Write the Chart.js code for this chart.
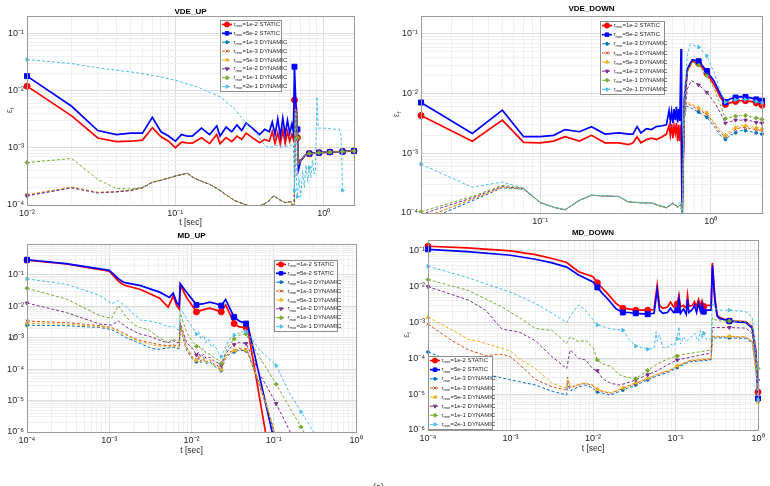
<!DOCTYPE html>
<html>
<head>
<meta charset="utf-8">
<script src="https://cdn.jsdelivr.net/npm/chart.js@4.4.1/dist/chart.umd.min.js"></script>
<style>
  html, body { margin: 0; padding: 0; background: #fff; }
  #page { position: relative; width: 770px; height: 486px; overflow: hidden; background: #fff; }
  #page canvas { position: absolute; left: 0; top: 0; }
</style>
</head>
<body>
<div id="page">
  <canvas id="vdeUp" width="770" height="486"></canvas>
  <canvas id="vdeDown" width="770" height="486"></canvas>
  <canvas id="mdUp" width="770" height="486"></canvas>
  <canvas id="mdDown" width="770" height="486"></canvas>
</div>
<script>
// ---- legend entries (same for all four panels) ----
const rmorValues = ['1e-2', '5e-2', '1e-3', '1e-3', '5e-3', '1e-2', '1e-1', '2e-1'];
const runModes = ['STATIC', 'STATIC', 'DYNAMIC', 'DYNAMIC', 'DYNAMIC', 'DYNAMIC', 'DYNAMIC', 'DYNAMIC'];

// ---- VDE_UP : [t, eps_f] ----
const vdeUpTail = [[0.7,6e-4],[0.75,7.4e-4],[0.8,7.9e-4],[0.93,8.2e-4],[1.1,8.4e-4],[1.34,8.6e-4],[1.6,8.8e-4]];
const vdeUpDynMid = [[0.07,2.5e-4],[0.08,2.7e-4],[0.1,3.2e-4],[0.12,3.6e-4],[0.13,3.1e-4],[0.14,2.8e-4],[0.15,2.6e-4],[0.17,2.3e-4],[0.2,1.8e-4],[0.22,1.5e-4],[0.25,1.2e-4],[0.3,1.0e-4],[0.35,9.2e-5],[0.4,1.05e-4],[0.43,1.2e-4],[0.46,1.45e-4],[0.5,1.25e-4],[0.55,1.1e-4],[0.6,1.15e-4],[0.625,9e-5],[0.63,4e-5],[0.645,0.0047],[0.655,0.0045],[0.665,0.0015],[0.675,5e-4]];
const vdeUp_s1e2 = [[0.01,0.0119],[0.02,0.0036],[0.03,0.00148],[0.04,0.00128],[0.05,0.0013],[0.06,0.00136],[0.07,0.00224],[0.08,0.00155],[0.09,0.0013],[0.1,0.001],[0.11,0.00125],[0.12,0.00122],[0.13,0.0012],[0.15,0.0015],[0.17,0.00118],[0.19,0.0017],[0.2,0.00118],[0.22,0.0015],[0.24,0.00128],[0.26,0.0016],[0.28,0.0014],[0.3,0.0018],[0.33,0.0015],[0.37,0.00122],[0.4,0.0014],[0.43,0.0013],[0.45,0.0019],[0.47,0.0012],[0.49,0.0018],[0.51,0.00115],[0.53,0.002],[0.55,0.0012],[0.57,0.0019],[0.59,0.0013],[0.61,0.0017],[0.625,0.0014],[0.635,0.0068],[0.645,0.0055],[0.655,0.005],[0.665,0.0015],[0.675,6e-4]];
const vdeUp_s5e2 = [[0.01,0.0178],[0.02,0.0053],[0.03,0.002],[0.04,0.0017],[0.05,0.0018],[0.06,0.0018],[0.07,0.0034],[0.08,0.0019],[0.09,0.0016],[0.1,0.0013],[0.11,0.0017],[0.12,0.0016],[0.13,0.0016],[0.15,0.0022],[0.17,0.0017],[0.19,0.0024],[0.2,0.0016],[0.22,0.0023],[0.24,0.0019],[0.26,0.0025],[0.28,0.002],[0.3,0.0027],[0.33,0.0022],[0.37,0.0017],[0.4,0.0021],[0.43,0.0019],[0.45,0.0028],[0.47,0.0017],[0.49,0.0032],[0.51,0.0016],[0.53,0.0033],[0.55,0.0017],[0.57,0.003],[0.59,0.0018],[0.61,0.0026],[0.625,0.0019],[0.635,0.026],[0.645,0.0087],[0.655,0.004],[0.665,0.0021],[0.675,4.1e-4]];
const vdeUp_d1e3a = [[0.01,1.45e-4],[0.02,2.0e-4],[0.03,1.65e-4],[0.04,1.7e-4],[0.05,1.8e-4],[0.06,2.0e-4]];
const vdeUp_d1e3b = [[0.01,1.5e-4],[0.02,2.05e-4],[0.03,1.66e-4],[0.04,1.7e-4],[0.05,1.8e-4],[0.06,2.0e-4]];
const vdeUp_d5e3 = [[0.01,1.5e-4],[0.02,2.05e-4],[0.03,1.66e-4],[0.04,1.71e-4],[0.05,1.8e-4],[0.06,2.0e-4]];
const vdeUp_d1e2 = [[0.01,1.45e-4],[0.02,2.0e-4],[0.03,1.62e-4],[0.04,1.7e-4],[0.05,1.8e-4],[0.06,2.0e-4]];
const vdeUp_d1e1 = [[0.01,5.5e-4],[0.02,6.5e-4],[0.03,2.8e-4],[0.04,1.95e-4],[0.05,1.9e-4],[0.06,2.05e-4]];
const vdeUp_d2e1 = [[0.01,0.0347],[0.02,0.0295],[0.03,0.0249],[0.05,0.0211],[0.07,0.0185],[0.1,0.0151],[0.14,0.0116],[0.2,0.0078],[0.25,0.0048],[0.3,0.0027],[0.35,0.0018],[0.4,0.0011],[0.43,0.001],[0.48,0.0011],[0.55,0.00105],[0.6,0.0011],[0.625,0.00115],[0.635,1.8e-4],[0.645,0.0047],[0.655,3e-4],[0.665,1.4e-4],[0.68,3e-4],[0.7,1.4e-4],[0.72,4e-4],[0.74,2e-4],[0.76,5e-4],[0.78,2.5e-4],[0.8,4.5e-4],[0.82,3e-4],[0.84,6e-4],[0.86,3.5e-4],[0.88,4e-4],[0.9,0.0078],[0.91,0.0035],[0.92,0.0022],[1.0,0.0022],[1.2,0.0021],[1.28,0.0021],[1.31,0.0016],[1.34,1.8e-4]];
const vdeUpMarkerT = [0.01, 0.635, 0.665, 0.8, 0.93, 1.1, 1.34, 1.6];

// ---- VDE_DOWN ----
const vdeDownDynMid = [[0.1,1.5e-4],[0.12,1.25e-4],[0.14,1.13e-4],[0.17,1.63e-4],[0.2,1.98e-4],[0.24,1.93e-4],[0.29,1.88e-4],[0.33,1.52e-4],[0.4,1.48e-4],[0.45,1.48e-4],[0.5,1.32e-4],[0.55,1.22e-4],[0.6,1.45e-4],[0.64,1.25e-4],[0.67,1.4e-4],[0.68,8e-5]];
const vdeDown_s1e2 = [[0.02,0.0043],[0.04,0.0016],[0.06,0.0036],[0.08,0.00153],[0.1,0.0015],[0.12,0.0016],[0.14,0.0019],[0.17,0.0016],[0.2,0.002],[0.24,0.0015],[0.29,0.0015],[0.33,0.0014],[0.35,0.0015],[0.37,0.0019],[0.39,0.0015],[0.42,0.0017],[0.45,0.0018],[0.48,0.0017],[0.52,0.0019],[0.55,0.0021],[0.57,0.0029],[0.58,0.002],[0.59,0.0031],[0.6,0.0018],[0.61,0.0029],[0.62,0.0022],[0.63,0.0032],[0.64,0.0016],[0.65,0.003],[0.66,0.0016],[0.67,0.003],[0.68,8e-5],[0.7,0.006],[0.73,0.024],[0.78,0.035],[0.85,0.032],[0.95,0.022],[1.05,0.014],[1.14,0.0087],[1.22,0.0066],[1.3,0.007],[1.4,0.0074],[1.5,0.0076],[1.6,0.0076],[1.72,0.0074],[1.85,0.007],[2.0,0.0064]];
const vdeDown_s5e2 = [[0.02,0.0071],[0.04,0.00215],[0.06,0.0053],[0.08,0.0019],[0.1,0.0019],[0.12,0.002],[0.14,0.0025],[0.17,0.0023],[0.2,0.0028],[0.24,0.0021],[0.29,0.0022],[0.33,0.0021],[0.35,0.0021],[0.37,0.0028],[0.39,0.0022],[0.42,0.0026],[0.45,0.0025],[0.48,0.0028],[0.52,0.0029],[0.55,0.003],[0.57,0.0052],[0.58,0.0035],[0.59,0.005],[0.6,0.0032],[0.61,0.0055],[0.62,0.0036],[0.63,0.006],[0.64,0.0033],[0.65,0.0055],[0.66,0.0035],[0.67,0.056],[0.675,0.004],[0.68,8e-5],[0.7,0.008],[0.73,0.026],[0.78,0.037],[0.85,0.035],[0.95,0.024],[1.05,0.016],[1.14,0.0098],[1.22,0.0072],[1.3,0.0082],[1.4,0.0086],[1.5,0.0089],[1.6,0.0088],[1.72,0.0085],[1.85,0.008],[2.0,0.0076]];
const vdeDown_d1e3a = [[0.02,7e-5],[0.04,1.6e-4],[0.06,2.65e-4],[0.08,2.5e-4]];
const vdeDown_d1e3aTail = [[0.7,0.0035],[0.72,0.0062],[0.78,0.0056],[0.85,0.0049],[0.95,0.004],[1.05,0.0028],[1.14,0.002],[1.22,0.0017],[1.3,0.002],[1.4,0.0022],[1.5,0.0024],[1.6,0.0024],[1.72,0.0023],[1.85,0.0022],[2.0,0.0021]];
const vdeDown_d1e3b = [[0.02,8e-5],[0.04,1.7e-4],[0.06,2.7e-4],[0.08,2.55e-4]];
const vdeDown_d1e3bTail = [[0.7,0.004],[0.72,0.0069],[0.78,0.0062],[0.85,0.0054],[0.95,0.0045],[1.05,0.0031],[1.14,0.0022],[1.22,0.0019],[1.3,0.0022],[1.4,0.0025],[1.5,0.0027],[1.6,0.0027],[1.72,0.0026],[1.85,0.0025],[2.0,0.0024]];
const vdeDown_d5e3 = [[0.02,8e-5],[0.04,1.7e-4],[0.06,2.7e-4],[0.08,2.55e-4]];
const vdeDown_d5e3Tail = [[0.7,0.0042],[0.72,0.0073],[0.78,0.0066],[0.85,0.0058],[0.95,0.0048],[1.05,0.0033],[1.14,0.0024],[1.22,0.002],[1.3,0.0024],[1.4,0.0027],[1.5,0.0029],[1.6,0.0029],[1.72,0.0028],[1.85,0.0027],[2.0,0.0026]];
const vdeDown_d1e2 = [[0.02,9.5e-5],[0.04,1.8e-4],[0.06,2.8e-4],[0.08,2.55e-4]];
const vdeDown_d1e2Tail = [[0.7,0.004],[0.73,0.012],[0.77,0.0165],[0.85,0.014],[0.95,0.0105],[1.05,0.0072],[1.14,0.0048],[1.22,0.0032],[1.3,0.0034],[1.4,0.0036],[1.5,0.0036],[1.6,0.0036],[1.72,0.0035],[1.85,0.0033],[2.0,0.0032]];
const vdeDown_d1e1 = [[0.02,1.05e-4],[0.04,1.9e-4],[0.06,2.9e-4],[0.08,2.6e-4]];
const vdeDown_d1e1Tail = [[0.7,0.006],[0.73,0.024],[0.78,0.034],[0.85,0.03],[0.95,0.02],[1.05,0.012],[1.14,0.0065],[1.22,0.0038],[1.3,0.004],[1.4,0.0042],[1.5,0.0043],[1.6,0.0043],[1.72,0.0041],[1.85,0.0039],[2.0,0.0037]];
const vdeDown_d2e1 = [[0.02,6.6e-4],[0.04,2.7e-4],[0.06,3.3e-4],[0.08,2.6e-4],[0.1,1.5e-4],[0.12,1.25e-4],[0.14,1.15e-4],[0.17,1.65e-4],[0.2,2.0e-4],[0.24,1.95e-4],[0.29,1.9e-4],[0.33,1.55e-4],[0.4,1.5e-4],[0.45,1.5e-4],[0.5,1.35e-4],[0.55,1.25e-4],[0.6,1.5e-4],[0.64,1.3e-4],[0.67,1.6e-4],[0.68,8e-5],[0.7,0.01],[0.73,0.045],[0.76,0.067],[0.85,0.06],[0.95,0.043],[1.05,0.022],[1.14,0.011],[1.22,0.0072],[1.3,0.0076],[1.4,0.0079],[1.5,0.008],[1.6,0.008],[1.72,0.0078],[1.85,0.0074],[2.0,0.007]];
const vdeDownMarkerT = [0.02, 0.85, 0.95, 1.22, 1.4, 1.6, 1.85, 2.0];

// ---- MD_UP ----
const mdUp_s1e2 = [[1e-4,0.29],[3e-4,0.22],[1e-3,0.13],[1.3e-3,0.062],[1.5e-3,0.047],[2.4e-3,0.034],[4.1e-3,0.018],[5.2e-3,0.0093],[6e-3,0.021],[6.6e-3,0.0105],[7.1e-3,0.0081],[7.3e-3,0.047],[8.7e-3,0.019],[1.15e-2,0.0066],[1.4e-2,0.0078],[1.67e-2,0.0087],[2e-2,0.0075],[2.3e-2,0.0066],[2.6e-2,0.011],[2.9e-2,0.006],[3.3e-2,0.0028],[3.8e-2,0.0022],[4.6e-2,0.0021],[4.8e-2,0.0021],[0.082,6e-7]];
const mdUp_s5e2 = [[1e-4,0.30],[3e-4,0.225],[1e-3,0.138],[1.3e-3,0.074],[1.5e-3,0.057],[2.4e-3,0.045],[4.1e-3,0.028],[5.4e-3,0.019],[6e-3,0.026],[6.6e-3,0.013],[7.1e-3,0.0104],[7.3e-3,0.052],[8.7e-3,0.028],[1.15e-2,0.011],[1.4e-2,0.012],[1.67e-2,0.0135],[2e-2,0.012],[2.3e-2,0.0104],[2.6e-2,0.0165],[2.9e-2,0.009],[3.3e-2,0.0045],[3.8e-2,0.0034],[4.6e-2,0.0028],[4.8e-2,0.0028],[0.1,6e-7]];
const mdUp_d1e3a = [[1e-4,0.0025],[3e-4,0.0024],[7.7e-4,0.0021],[1.07e-3,0.0018],[1.29e-3,0.0014],[1.6e-3,0.001],[2e-3,0.0008],[2.4e-3,0.00065],[3.1e-3,0.00048],[3.8e-3,0.00042],[4.5e-3,0.00045],[5.2e-3,0.00047],[6e-3,0.0005],[6.6e-3,0.00046],[7.1e-3,0.00045],[7.3e-3,0.0021],[8.7e-3,0.0004],[1.05e-2,0.00019],[1.15e-2,0.00017],[1.22e-2,0.00022],[1.3e-2,0.00016],[1.4e-2,0.0002],[1.5e-2,0.00015],[1.67e-2,0.00017],[1.9e-2,0.00012],[2.1e-2,0.00011],[2.3e-2,9e-5],[2.6e-2,0.00022],[2.9e-2,0.0003],[3.3e-2,0.00035],[3.8e-2,0.0004],[4.6e-2,0.00038],[5e-2,0.00026],[6.7e-2,3e-5],[8.1e-2,7e-6],[9.8e-2,1.3e-6],[0.11,5e-7]];
const mdUp_d1e3b = [[1e-4,0.0034],[3e-4,0.003],[7.7e-4,0.0024],[1.07e-3,0.0021],[1.29e-3,0.0017],[1.6e-3,0.0013],[2e-3,0.00095],[2.4e-3,0.0008],[3.1e-3,0.0007],[3.8e-3,0.00062],[4.5e-3,0.00058],[5.2e-3,0.00055],[6e-3,0.0006],[6.6e-3,0.00055],[7.1e-3,0.00055],[7.3e-3,0.0025],[8.7e-3,0.0005],[1.05e-2,0.00022],[1.15e-2,0.0002],[1.22e-2,0.00026],[1.3e-2,0.00018],[1.4e-2,0.00024],[1.5e-2,0.00017],[1.67e-2,0.0002],[1.9e-2,0.00014],[2.1e-2,0.00013],[2.3e-2,0.0001],[2.6e-2,0.00025],[2.9e-2,0.00035],[3.3e-2,0.0004],[3.8e-2,0.00045],[4.6e-2,0.00042],[5e-2,0.0003],[6.7e-2,3.5e-5],[8.1e-2,8e-6],[9.8e-2,1.45e-6],[0.11,5e-7]];
const mdUp_d5e3 = [[1e-4,0.0029],[3e-4,0.0027],[7.7e-4,0.0022],[1.07e-3,0.002],[1.29e-3,0.0016],[1.6e-3,0.0012],[2e-3,0.0009],[2.4e-3,0.00075],[3.1e-3,0.00062],[3.8e-3,0.00055],[4.5e-3,0.00052],[5.2e-3,0.0005],[6e-3,0.00056],[6.6e-3,0.0005],[7.1e-3,0.0005],[7.3e-3,0.0023],[8.7e-3,0.00045],[1.05e-2,0.0002],[1.15e-2,0.00019],[1.22e-2,0.00024],[1.3e-2,0.00017],[1.4e-2,0.00022],[1.5e-2,0.00016],[1.67e-2,0.00019],[1.9e-2,0.00013],[2.1e-2,0.00012],[2.3e-2,9.5e-5],[2.6e-2,0.00024],[2.9e-2,0.00033],[3.3e-2,0.00038],[3.8e-2,0.00043],[4.6e-2,0.0004],[5e-2,0.00028],[6.7e-2,3.3e-5],[8.1e-2,7.5e-6],[9.8e-2,1.4e-6],[0.11,5e-7]];
const mdUp_d1e2 = [[1e-4,0.0126],[3e-4,0.0063],[7.7e-4,0.0027],[1.07e-3,0.0025],[1.29e-3,0.0034],[1.6e-3,0.0022],[2e-3,0.0016],[2.4e-3,0.0013],[3.1e-3,0.0011],[3.8e-3,0.0009],[4.5e-3,0.00075],[5.2e-3,0.0007],[6e-3,0.0008],[6.6e-3,0.0007],[7.1e-3,0.0007],[7.3e-3,0.003],[8.7e-3,0.0007],[1.05e-2,0.00042],[1.15e-2,0.00028],[1.22e-2,0.00035],[1.3e-2,0.00024],[1.4e-2,0.0003],[1.5e-2,0.00022],[1.67e-2,0.00024],[1.9e-2,0.00017],[2.1e-2,0.00016],[2.3e-2,0.00013],[2.6e-2,0.0003],[2.9e-2,0.00045],[3.3e-2,0.0006],[3.8e-2,0.0007],[4.6e-2,0.00065],[5.5e-2,0.00025],[6.7e-2,7e-5],[8.1e-2,3e-5],[0.107,8e-6],[0.156,1.1e-6],[0.18,5e-7]];
const mdUp_d1e1 = [[1e-4,0.037],[3e-4,0.017],[7.7e-4,0.005],[1.07e-3,0.0041],[1.29e-3,0.0105],[1.6e-3,0.0045],[2e-3,0.0026],[2.4e-3,0.0021],[3.1e-3,0.0017],[3.8e-3,0.0011],[4.5e-3,0.00085],[5.2e-3,0.0007],[6e-3,0.0009],[6.6e-3,0.0008],[7.1e-3,0.0008],[7.3e-3,0.006],[8.7e-3,0.0015],[1.05e-2,0.0007],[1.15e-2,0.00053],[1.22e-2,0.0006],[1.3e-2,0.0004],[1.4e-2,0.00045],[1.5e-2,0.00032],[1.67e-2,0.0003],[1.9e-2,0.00022],[2.1e-2,0.0002],[2.3e-2,0.00015],[2.6e-2,0.00035],[2.9e-2,0.0006],[3.3e-2,0.0009],[3.8e-2,0.0012],[4.6e-2,0.0013],[5.5e-2,0.0006],[6.7e-2,2.4e-4],[8.1e-2,1.1e-4],[0.107,3.3e-5],[0.156,6e-6],[0.215,1.45e-6],[0.25,7e-7]];
const mdUp_d2e1 = [[1e-4,0.074],[3e-4,0.05],[7.7e-4,0.022],[1.07e-3,0.012],[1.29e-3,0.015],[1.6e-3,0.0095],[2e-3,0.0055],[2.4e-3,0.0036],[3.1e-3,0.0034],[3.8e-3,0.003],[4.5e-3,0.0026],[5.2e-3,0.0022],[6e-3,0.0024],[6.6e-3,0.0019],[7.1e-3,0.0017],[7.3e-3,0.009],[8.7e-3,0.004],[1.05e-2,0.0019],[1.15e-2,0.0013],[1.22e-2,0.0016],[1.3e-2,0.0009],[1.4e-2,0.0012],[1.5e-2,0.0007],[1.6e-2,0.0009],[1.75e-2,0.0005],[1.9e-2,0.0006],[2.1e-2,0.00035],[2.3e-2,0.00025],[2.6e-2,0.0005],[2.9e-2,0.0009],[3.3e-2,0.0012],[3.8e-2,0.0014],[4.6e-2,0.0016],[6.7e-2,4.2e-4],[0.107,1.3e-4],[0.156,1.7e-5],[0.215,4.4e-6],[0.3,1.1e-6],[0.32,8e-7]];
const mdUpMarkerT = [1e-4, 1.15e-2, 2.3e-2, 3.3e-2, 4.6e-2, 0.107, 0.215];

// ---- MD_DOWN ----
const mdDown_s1e2 = [[1e-4,0.134],[3e-4,0.12],[1e-3,0.1],[2e-3,0.078],[3.2e-3,0.061],[4.8e-3,0.047],[6.7e-3,0.026],[1e-2,0.019],[1.13e-2,0.0128],[1.3e-2,0.009],[1.5e-2,0.0064],[1.9e-2,0.0034],[2.3e-2,0.0025],[2.7e-2,0.0024],[3.3e-2,0.0022],[4.6e-2,0.0022],[5.5e-2,0.0023],[6e-2,0.011],[6.4e-2,0.003],[7e-2,0.0025],[8e-2,0.0027],[8.7e-2,0.0037],[9.5e-2,0.0027],[0.105,0.0033],[0.11,0.0058],[0.115,0.0027],[0.125,0.003],[0.135,0.0025],[0.14,0.0058],[0.145,0.0028],[0.16,0.003],[0.17,0.0038],[0.18,0.0028],[0.19,0.0044],[0.2,0.003],[0.21,0.004],[0.22,0.0028],[0.24,0.003],[0.27,0.003],[0.28,0.046],[0.3,0.005],[0.32,0.0016],[0.34,0.0014],[0.45,0.0011],[0.6,0.00108],[0.71,0.00105],[0.85,7.6e-4],[0.94,1.7e-4],[1.0,1.15e-5]];
const mdDown_s5e2 = [[1e-4,0.11],[3e-4,0.095],[1e-3,0.075],[2e-3,0.058],[3.2e-3,0.046],[4.8e-3,0.035],[6.7e-3,0.021],[1e-2,0.0135],[1.13e-2,0.0095],[1.3e-2,0.0065],[1.5e-2,0.0046],[1.9e-2,0.0024],[2.3e-2,0.0019],[2.7e-2,0.0019],[3.3e-2,0.0018],[4.6e-2,0.0017],[5.5e-2,0.0018],[6e-2,0.0082],[6.4e-2,0.0022],[7e-2,0.0018],[8e-2,0.0019],[8.7e-2,0.0025],[9.5e-2,0.0019],[0.105,0.0022],[0.11,0.0045],[0.115,0.0018],[0.125,0.0024],[0.135,0.0017],[0.14,0.0045],[0.145,0.0019],[0.16,0.0023],[0.17,0.003],[0.18,0.0019],[0.19,0.0035],[0.2,0.0021],[0.21,0.0032],[0.22,0.002],[0.24,0.0022],[0.27,0.0022],[0.28,0.039],[0.3,0.004],[0.32,0.0015],[0.34,0.0013],[0.45,0.0011],[0.6,0.00102],[0.71,0.001],[0.85,7e-4],[0.94,1.4e-4],[1.0,7.6e-6]];
const mdDown_d1e3a = [[1e-4,0.00015],[2e-4,0.00008],[3.1e-4,0.00005],[5e-4,0.000036],[1e-3,0.000025],[2e-3,0.000018],[3.2e-3,0.000012],[4.8e-3,0.0000095],[4.9e-3,0.00002],[5.3e-3,0.0000125],[6.7e-3,0.000016],[8.1e-3,0.000018],[1e-2,0.000015],[1.13e-2,0.0000115],[1.65e-2,0.0000095],[2.3e-2,0.000013],[3.3e-2,0.000018],[4.6e-2,0.000025],[6e-2,0.000032],[8.4e-2,0.000042],[0.105,0.000055],[0.15,0.00008],[0.27,0.00009],[0.28,0.00037],[0.3,0.00037],[0.45,0.00037],[0.71,0.00036],[0.85,0.00028],[0.94,5e-5],[1.0,6.5e-6]];
const mdDown_d1e3b = [[1e-4,0.0009],[2e-4,0.0003],[3.1e-4,0.00017],[5e-4,0.00012],[7.9e-4,0.00013],[1e-3,0.00011],[1.26e-3,0.00007],[2e-3,0.000026],[3.2e-3,0.000016],[4.8e-3,0.000013],[4.9e-3,0.00003],[5.3e-3,0.000015],[6.7e-3,0.000018],[8.1e-3,0.00002],[1e-2,0.000017],[1.13e-2,0.000013],[1.65e-2,0.0000105],[2.3e-2,0.0000145],[3.3e-2,0.00002],[4.6e-2,0.000027],[6e-2,0.000035],[8.4e-2,0.000045],[0.105,0.00006],[0.15,0.000085],[0.27,0.000095],[0.28,0.0004],[0.3,0.0004],[0.45,0.0004],[0.71,0.00039],[0.85,0.0003],[0.94,6e-5],[1.0,1.6e-5]];
const mdDown_d5e3 = [[1e-4,0.0014],[2e-4,0.0006],[3.1e-4,0.00034],[4e-4,0.0003],[5e-4,0.00026],[7.9e-4,0.00019],[1e-3,0.00016],[1.26e-3,0.0001],[2e-3,0.000052],[3.2e-3,0.00002],[4.8e-3,0.0000145],[4.9e-3,0.000025],[5.3e-3,0.000016],[6.7e-3,0.000019],[8.1e-3,0.000021],[1e-2,0.000018],[1.13e-2,0.0000135],[1.65e-2,0.000011],[2.3e-2,0.000015],[3.3e-2,0.000021],[4.6e-2,0.000028],[6e-2,0.000036],[8.4e-2,0.000047],[0.105,0.000062],[0.15,0.000088],[0.27,0.0001],[0.28,0.00041],[0.3,0.00041],[0.45,0.00041],[0.71,0.0004],[0.85,0.00031],[0.94,6e-5],[1.0,6e-6]];
const mdDown_d1e2 = [[1e-4,0.01],[3.1e-4,0.0042],[5e-4,0.0022],[7.9e-4,0.00065],[1.26e-3,0.00055],[2e-3,0.00031],[3.2e-3,0.00011],[4.8e-3,0.000052],[5.3e-3,0.00017],[6.7e-3,0.0001],[8.1e-3,0.00009],[1e-2,0.00005],[1.13e-2,0.000045],[1.3e-2,0.000027],[1.65e-2,0.00002],[2.07e-2,0.000018],[2.5e-2,0.00002],[3.3e-2,0.000025],[4.6e-2,0.000035],[6e-2,0.000045],[8.4e-2,0.00007],[0.105,0.00009],[0.13,0.0001],[0.19,0.00012],[0.27,0.00014],[0.28,0.00072],[0.3,0.00072],[0.45,0.00072],[0.71,0.0007],[0.85,5e-4],[0.94,1e-4],[1.0,2.4e-5]];
const mdDown_d1e1 = [[1e-4,0.0158],[3.1e-4,0.0078],[5e-4,0.0045],[7.9e-4,0.0027],[1.26e-3,0.0014],[2e-3,0.00068],[3.2e-3,0.0006],[4.8e-3,0.00026],[5.3e-3,0.0004],[6.7e-3,0.00029],[8.1e-3,0.00032],[1e-2,0.0002],[1.13e-2,0.00009],[1.3e-2,0.00007],[1.65e-2,0.00006],[2.07e-2,0.000035],[2.5e-2,0.00003],[3.3e-2,0.000027],[4.6e-2,0.000046],[6e-2,0.00007],[8.4e-2,0.0001],[0.105,0.000116],[0.13,0.00013],[0.19,0.00015],[0.27,0.00017],[0.28,0.0014],[0.3,0.0012],[0.34,0.0011],[0.45,0.0011],[0.71,0.00105],[0.85,7.6e-4],[0.94,1.3e-4],[1.0,5.2e-5]];
const mdDown_d2e1 = [[1e-4,0.037],[3e-4,0.018],[5e-4,0.012],[1e-3,0.007],[2e-3,0.0034],[3.2e-3,0.0018],[4.8e-3,0.001],[5.3e-3,0.0015],[6.7e-3,0.0031],[8.1e-3,0.0022],[1e-2,0.0012],[1.13e-2,0.00085],[1.3e-2,0.00078],[1.65e-2,0.00066],[2.3e-2,0.00061],[2.7e-2,0.00035],[3.3e-2,0.00022],[4.6e-2,0.00018],[5.5e-2,0.00019],[5.8e-2,0.00055],[6e-2,0.0003],[6.4e-2,0.00045],[7e-2,0.0002],[8e-2,0.0002],[8.7e-2,0.00025],[9.5e-2,0.00022],[0.105,0.00035],[0.11,0.00076],[0.115,0.00025],[0.125,0.0004],[0.135,0.0003],[0.15,0.00036],[0.17,0.0005],[0.19,0.0003],[0.2,0.0006],[0.21,0.00035],[0.22,0.0005],[0.24,0.00032],[0.27,0.00035],[0.28,0.0042],[0.3,0.0025],[0.34,0.0022],[0.45,0.0022],[0.6,0.0021],[0.71,0.002],[0.85,0.0014],[0.94,1.7e-4],[1.0,7e-6]];
const mdDownMarkerT = [1e-4, 1.13e-2, 2.3e-2, 3.3e-2, 4.6e-2, 0.105, 0.22, 0.45, 1.0];

// ---- styles ----
const FONT = '"Liberation Sans", Arial, Helvetica, sans-serif';
const SERIES_COLORS = ['#ff0000', '#0000ff', '#0072bd', '#d95319', '#edb120', '#7e2f8e', '#77ac30', '#4dbeee'];
const SERIES_STYLE = [
    { width: 1.7, dash: [], marker: 'circle', rot: 0, r: 3 },
    { width: 1.7, dash: [], marker: 'rect', rot: 0, r: 3.5 },
    { width: 1, dash: [3, 2], marker: 'circle', rot: 0, r: 1.4 },
    { width: 1, dash: [3, 2], marker: 'crossRot', rot: 0, r: 2 },
    { width: 1, dash: [3, 2], marker: 'triangle', rot: 0, r: 2 },
    { width: 1, dash: [3, 2], marker: 'triangle', rot: 180, r: 2 },
    { width: 1, dash: [3, 2], marker: 'rectRot', rot: 0, r: 2 },
    { width: 1, dash: [3, 2], marker: 'triangle', rot: 90, r: 2 }
];

const SUP = { '-': '\u207b', '0': '\u2070', '1': '\u00b9', '2': '\u00b2', '3': '\u00b3', '4': '\u2074', '5': '\u2075', '6': '\u2076', '7': '\u2077', '8': '\u2078', '9': '\u2079' };

function isDecade(v) {
    const l = Math.log10(v);
    return Math.abs(l - Math.round(l)) < 1e-6;
}

function decadeLabel(v) {
    const e = String(Math.round(Math.log10(v)));
    return '10' + e.split('').map(c => SUP[c]).join('');
}

// grid at 1..9 x 10^n, labels only on decades
function logTicks(scale) {
    const lo = Math.floor(Math.log10(scale.min) + 1e-9);
    const hi = Math.ceil(Math.log10(scale.max) - 1e-9);
    const ticks = [];
    for (let e = lo; e <= hi; e++) {
        for (let m = 1; m <= 9; m++) {
            const v = m * Math.pow(10, e);
            if (v >= scale.min * 0.9999 && v <= scale.max * 1.0001) ticks.push({ value: v });
        }
    }
    scale.ticks = ticks;
}

function axisOptions(range, fitSize, isX, titleText) {
    return {
        type: 'logarithmic',
        position: isX ? 'bottom' : 'left',
        min: range[0],
        max: range[1],
        afterBuildTicks: logTicks,
        afterFit: s => { if (isX) s.height = fitSize; else s.width = fitSize; },
        grid: {
            drawTicks: false,
            lineWidth: 1,
            color: c => (c.tick && isDecade(c.tick.value)) ? '#dcdcdc' : '#efefef'
        },
        border: { display: true, color: '#9a9a9a' },
        ticks: {
            autoSkip: false,
            maxRotation: 0,
            padding: 3,
            color: '#262626',
            font: { family: FONT, size: 9 },
            callback: v => isDecade(v) ? decadeLabel(v) : ''
        },
        title: {
            display: !!titleText,
            text: titleText || '',
            color: '#262626',
            padding: 0,
            font: { family: FONT, size: 8.5, lineHeight: 1 }
        }
    };
}

// box, y label, legend drawn on top of the plot
const framePlugin = {
    id: 'matlabFrame',
    afterDraw(chart, args, opts) {
        const ctx = chart.ctx;
        const a = chart.chartArea;
        ctx.save();
        ctx.strokeStyle = '#9a9a9a';
        ctx.lineWidth = 1;
        ctx.strokeRect(Math.round(a.left) + 0.5, Math.round(a.top) + 0.5, Math.round(a.right - a.left), Math.round(a.bottom - a.top));

        // y label: epsilon with subscript f
        ctx.translate(opts.yLabelX, (a.top + a.bottom) / 2);
        ctx.rotate(-Math.PI / 2);
        ctx.fillStyle = '#555';
        ctx.textBaseline = 'middle';
        ctx.font = '9px ' + FONT;
        const w1 = ctx.measureText('\u03b5').width;
        ctx.font = '6px ' + FONT;
        const w2 = ctx.measureText('f').width;
        ctx.font = '9px ' + FONT;
        ctx.fillText('\u03b5', -(w1 + w2) / 2, 0);
        ctx.font = '6px ' + FONT;
        ctx.fillText('f', -(w1 + w2) / 2 + w1, 2);
        ctx.restore();

        // legend
        const [lx, ly, lw, lh] = opts.legend;
        ctx.save();
        ctx.fillStyle = '#fff';
        ctx.fillRect(lx, ly, lw, lh);
        ctx.strokeStyle = '#8c8c8c';
        ctx.strokeRect(lx + 0.5, ly + 0.5, lw, lh);
        const rowH = lh / chart.data.datasets.length;
        chart.data.datasets.forEach((ds, i) => {
            const st = SERIES_STYLE[i];
            const cy = ly + rowH * (i + 0.5);
            const x0 = lx + 2, x1 = lx + 12;
            ctx.strokeStyle = ds.borderColor;
            ctx.fillStyle = ds.borderColor;
            ctx.lineWidth = st.width;
            ctx.setLineDash(st.dash);
            ctx.beginPath();
            ctx.moveTo(x0, cy);
            ctx.lineTo(x1, cy);
            ctx.stroke();
            ctx.setLineDash([]);
            ctx.lineWidth = 1;
            Chart.helpers.drawPoint(ctx, { pointStyle: st.marker, rotation: st.rot, radius: Math.min(st.r, 2.5), borderWidth: 1 }, (x0 + x1) / 2, cy);
            ctx.fillStyle = '#262626';
            ctx.textBaseline = 'middle';
            let tx = x1 + 1.5;
            ctx.font = '6px ' + FONT;
            ctx.fillText('r', tx, cy);
            tx += ctx.measureText('r').width;
            ctx.font = '4px ' + FONT;
            ctx.fillText('mor', tx, cy + 1.8);
            tx += ctx.measureText('mor').width;
            ctx.font = '6px ' + FONT;
            ctx.fillText('=' + rmorValues[i] + ' ' + runModes[i], tx, cy);
        });
        if (opts.caption) {
            ctx.fillStyle = '#262626';
            ctx.font = '9px ' + FONT;
            ctx.textBaseline = 'alphabetic';
            ctx.fillText(opts.caption[0], opts.caption[1], opts.caption[2]);
        }
        ctx.restore();
    }
};

function makeDatasets(seriesList, markerT) {
    const marks = new Set(markerT);
    return seriesList.map((pts, i) => {
        const st = SERIES_STYLE[i];
        return {
            label: 'r_mor=' + rmorValues[i] + ' ' + runModes[i],
            data: pts.map(p => ({ x: p[0], y: p[1] })),
            borderColor: SERIES_COLORS[i],
            backgroundColor: SERIES_COLORS[i],
            pointBackgroundColor: SERIES_COLORS[i],
            pointBorderColor: SERIES_COLORS[i],
            borderWidth: st.width,
            borderDash: st.dash,
            pointStyle: st.marker,
            pointRotation: st.rot,
            pointRadius: c => (c.raw && marks.has(c.raw.x)) ? st.r : 0,
            pointHoverRadius: 0,
            pointBorderWidth: 1,
            tension: 0,
            fill: false,
            order: 10 - i,
            clip: { left: 4, right: 4, top: 0, bottom: 0 }
        };
    });
}

function makePanel(p) {
    const [L, T, R, B] = p.area;
    const yAxisW = 25;
    const titleH = 8 + p.titleGap;
    new Chart(document.getElementById(p.id), {
        type: 'line',
        data: { datasets: makeDatasets(p.series, p.markers) },
        plugins: [framePlugin],
        options: {
            responsive: false,
            animation: false,
            events: [],
            layout: { padding: { left: L - yAxisW, top: T - titleH, right: 770 - R, bottom: 486 - B - p.xAxisH } },
            scales: {
                x: axisOptions(p.xRange, p.xAxisH, true, p.xTitle),
                y: axisOptions(p.yRange, yAxisW, false, null)
            },
            plugins: {
                legend: { display: false },
                tooltip: { enabled: false },
                title: {
                    display: true,
                    text: p.title,
                    fullSize: false,
                    color: '#000',
                    padding: { top: 0, bottom: p.titleGap },
                    font: { family: FONT, size: 8, weight: 'bold', lineHeight: 1 }
                },
                matlabFrame: { yLabelX: p.yLabelX, legend: p.legend, caption: p.caption }
            }
        }
    });
}

makePanel({
    id: 'vdeUp', title: 'VDE_UP', area: [27, 16, 354, 205], titleGap: 0, xAxisH: 22, xTitle: 't [sec]',
    xRange: [0.01, 1.6], yRange: [1e-4, 0.2], yLabelX: 10, legend: [220, 20, 61, 71],
    markers: vdeUpMarkerT,
    series: [vdeUp_s1e2.concat(vdeUpTail), vdeUp_s5e2.concat(vdeUpTail),
        vdeUp_d1e3a.concat(vdeUpDynMid, vdeUpTail), vdeUp_d1e3b.concat(vdeUpDynMid, vdeUpTail),
        vdeUp_d5e3.concat(vdeUpDynMid, vdeUpTail), vdeUp_d1e2.concat(vdeUpDynMid, vdeUpTail),
        vdeUp_d1e1.concat(vdeUpDynMid, vdeUpTail), vdeUp_d2e1]
});

makePanel({
    id: 'vdeDown', title: 'VDE_DOWN', area: [421, 16, 762, 213], titleGap: 3, xAxisH: 16, xTitle: null,
    xRange: [0.02, 2.0], yRange: [1e-4, 0.2], yLabelX: 397, legend: [600, 21, 64, 73],
    markers: vdeDownMarkerT,
    series: [vdeDown_s1e2, vdeDown_s5e2,
        vdeDown_d1e3a.concat(vdeDownDynMid, vdeDown_d1e3aTail), vdeDown_d1e3b.concat(vdeDownDynMid, vdeDown_d1e3bTail),
        vdeDown_d5e3.concat(vdeDownDynMid, vdeDown_d5e3Tail), vdeDown_d1e2.concat(vdeDownDynMid, vdeDown_d1e2Tail),
        vdeDown_d1e1.concat(vdeDownDynMid, vdeDown_d1e1Tail), vdeDown_d2e1]
});

makePanel({
    id: 'mdUp', title: 'MD_UP', area: [27, 244, 356, 432], titleGap: 4, xAxisH: 23, xTitle: 't [sec]',
    xRange: [1e-4, 1], yRange: [1e-6, 0.95], yLabelX: 12, legend: [274, 260, 63, 71],
    markers: mdUpMarkerT, caption: ['(a)', 373, 490],
    series: [mdUp_s1e2, mdUp_s5e2, mdUp_d1e3a, mdUp_d1e3b, mdUp_d5e3, mdUp_d1e2, mdUp_d1e1, mdUp_d2e1]
});

makePanel({
    id: 'mdDown', title: 'MD_DOWN', area: [428, 240, 758, 430], titleGap: 3, xAxisH: 23, xTitle: 't [sec]',
    xRange: [1e-4, 1], yRange: [1e-6, 0.2], yLabelX: 407, legend: [428, 356, 64, 73],
    markers: mdDownMarkerT,
    series: [mdDown_s1e2, mdDown_s5e2, mdDown_d1e3a, mdDown_d1e3b, mdDown_d5e3, mdDown_d1e2, mdDown_d1e1, mdDown_d2e1]
});
</script>
</body>
</html>
